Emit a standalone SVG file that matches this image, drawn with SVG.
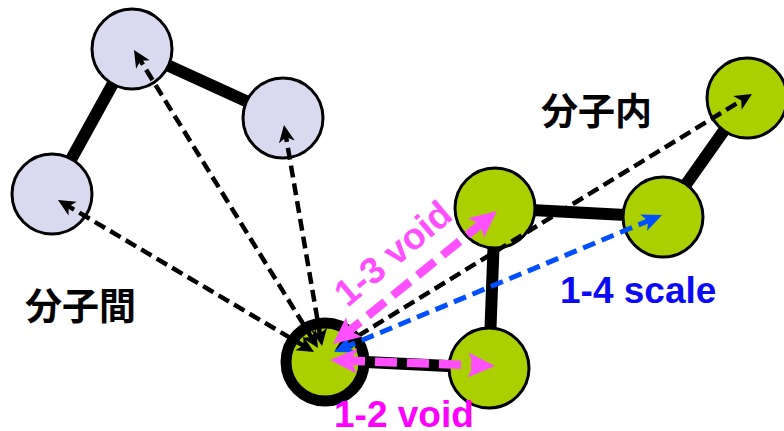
<svg xmlns="http://www.w3.org/2000/svg" width="784" height="431" viewBox="0 0 784 431">
<style>
.lav{fill:#d9d9f0;stroke:#000;stroke-width:3}
.grn{fill:#aad000;stroke:#000;stroke-width:3}
.bond{stroke:#000;stroke-width:12;fill:none}
.blk{stroke:#000;stroke-width:4.5;stroke-dasharray:12 6;fill:none;marker-start:url(#hb);marker-end:url(#hb)}
.blu{stroke:#0050ff;stroke-width:5;stroke-dasharray:13 7;fill:none;marker-start:url(#hu);marker-end:url(#hu)}
.mag{stroke:#ff50ff;stroke-width:8.5;stroke-dasharray:22 10;fill:none;marker-start:url(#hm);marker-end:url(#hm)}
.jp{font-family:"Noto Sans CJK JP","Noto Sans CJK SC",sans-serif;font-weight:bold;font-size:37px;fill:#000}
.lb{font-family:"Liberation Sans",Arial,sans-serif;font-weight:bold;font-size:37px}
</style>
<defs>
<marker id="hb" viewBox="-18 -9 18 18" refX="-9" refY="0" markerWidth="18" markerHeight="18" markerUnits="userSpaceOnUse" orient="auto-start-reverse"><path d="M0,0 L-17,-8 L-12.5,0 L-17,8 z" fill="#000"/></marker>
<marker id="hu" viewBox="-22 -11 22 22" refX="-10" refY="0" markerWidth="22" markerHeight="22" markerUnits="userSpaceOnUse" orient="auto-start-reverse"><path d="M0,0 L-20,-9 L-15,0 L-20,9 z" fill="#0050ff"/></marker>
<marker id="hm" viewBox="-30 -14 30 28" refX="-13" refY="0" markerWidth="30" markerHeight="28" markerUnits="userSpaceOnUse" orient="auto-start-reverse"><path d="M0,0 L-27,-12.5 L-21,0 L-27,12.5 z" fill="#ff50ff"/></marker>
</defs>
<g id="bonds">
<line class="bond" x1="132" y1="49" x2="283" y2="118"/>
<line class="bond" x1="132" y1="49" x2="52" y2="194"/>
<line class="bond" x1="325" y1="360" x2="489" y2="368"/>
<line class="bond" x1="495" y1="208" x2="489" y2="368"/>
<line class="bond" x1="495" y1="208" x2="663" y2="217"/>
<line class="bond" x1="663" y1="217" x2="747" y2="98"/>
</g>
<g id="mol-a-top"><circle class="lav" cx="132" cy="49" r="40"/></g>
<g id="mol-a-right"><circle class="lav" cx="283" cy="118" r="40"/></g>
<g id="mol-a-left"><circle class="lav" cx="52" cy="194" r="40"/></g>
<g id="atom-center"><circle cx="325" cy="362" r="39" fill="#aad000" stroke="#000" stroke-width="11"/></g>
<g id="atom-d"><circle class="grn" cx="489" cy="368" r="40"/></g>
<g id="atom-a"><circle class="grn" cx="495" cy="208" r="40"/></g>
<g id="atom-b"><circle class="grn" cx="663" cy="217" r="40"/></g>
<g id="atom-c"><circle class="grn" cx="747" cy="98" r="40"/></g>
<g id="connectors">
<line class="blk" x1="313.3" y1="340.3" x2="138.7" y2="57.7"/>
<line class="blk" x1="320.5" y1="337.1" x2="285.5" y2="133.9"/>
<line class="blk" x1="306.3" y1="347.4" x2="65.7" y2="204.6"/>
<line class="blk" x1="342.7" y1="345.3" x2="744.3" y2="98.7"/>
<line class="blu" x1="343.2" y1="348.1" x2="652.8" y2="218.9"/>
<line class="mag" x1="343.1" y1="335.8" x2="486.9" y2="219.2"/>
<line class="mag" x1="343" y1="360.5" x2="482" y2="365.5"/>
</g>
<g id="labels">
<text class="jp" x="541" y="125">分子内</text>
<text class="jp" x="25" y="320">分子間</text>
<text class="lb" x="560" y="303" fill="#0a0af5">1-4 scale</text>
<text class="lb" x="334" y="427" fill="#ff00ff">1-2 void</text>
<text class="lb" x="401" y="263" fill="#ff50ff" text-anchor="middle" transform="rotate(-40 401 263)">1-3 void</text>
</g>
</svg>
